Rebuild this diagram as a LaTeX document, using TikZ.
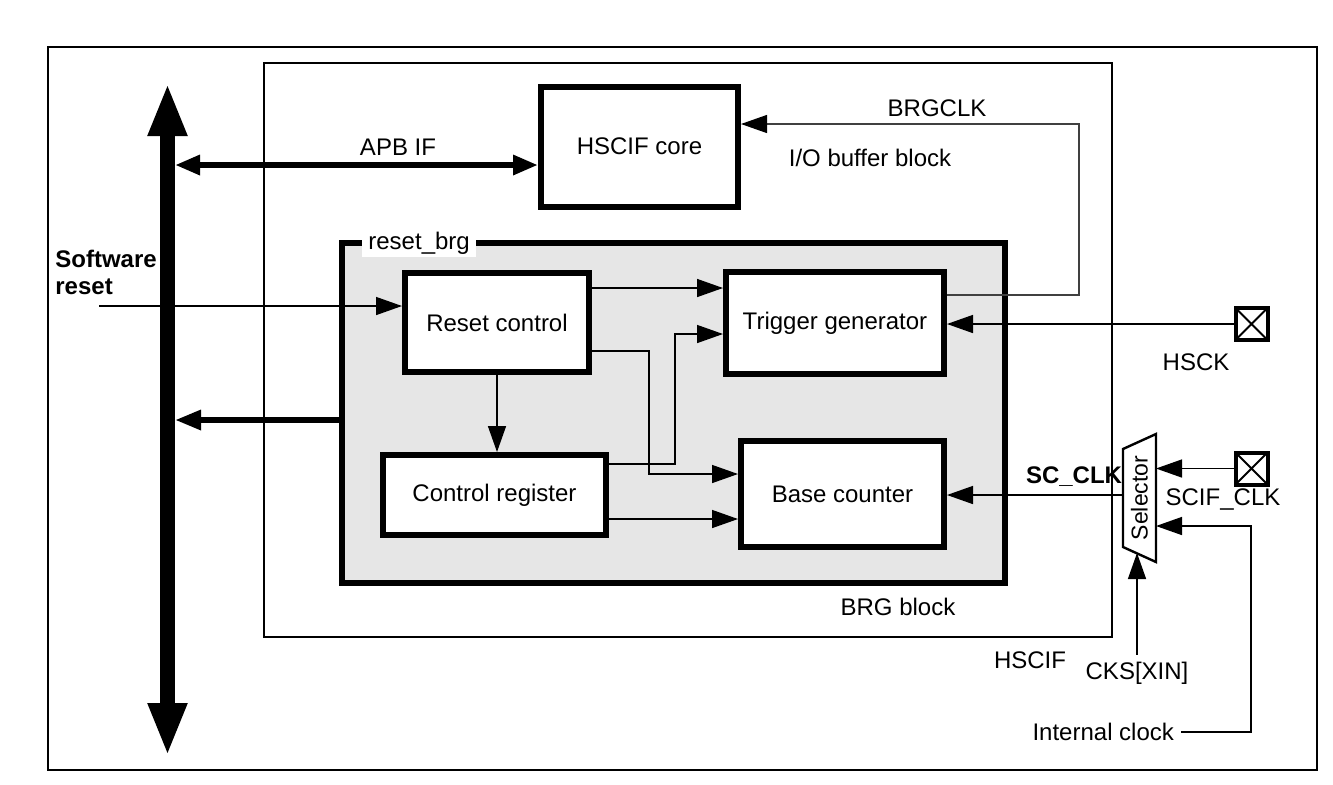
\documentclass[tikz,border=0pt]{standalone}
\usepackage{fontspec}
\setmainfont{Liberation Sans}
\usetikzlibrary{arrows.meta}
\definecolor{brgfill}{HTML}{E6E6E6}
\definecolor{ioline}{HTML}{404040}
\tikzset{
  blk/.style={draw,line width=3pt,fill=white,align=center,inner sep=2pt},
  grp/.style={draw,line width=3pt,fill=brgfill},
  frm/.style={draw,line width=1.3pt},
  sig/.style={-{Triangle[length=13pt,width=9pt]},line width=0.75pt},
  fatarr/.style={-{Triangle[length=13pt,width=9.5pt]},line width=3pt},
  fatboth/.style={{Triangle[length=12.5pt,width=9.5pt]}-{Triangle[length=12.5pt,width=9.5pt]},line width=3pt},
  busarr/.style={{Triangle[length=26.5pt,width=18pt]}-{Triangle[length=26.5pt,width=18pt]},line width=7.5pt},
  pad/.style={draw,line width=2pt,minimum size=16pt,inner sep=0pt,
    path picture={\draw[line width=1pt]
      (path picture bounding box.north west) -- (path picture bounding box.south east)
      (path picture bounding box.north east) -- (path picture bounding box.south west);}},
  selbox/.style={draw,line width=1.2pt,fill=white}
}

\begin{document}
\begin{tikzpicture}[x=0.5pt,y=-0.5pt,font=\fontsize{12}{13.5}\selectfont]
  \useasboundingbox (0,0) rectangle (1333,784);
  \draw[line width=1pt] (48,47) rectangle (1317,770);
  % bus
  \coordinate (bustop) at (167.5,83);
  \coordinate (busbot) at (167.5,756);
  \coordinate (busR) at (175,0);
  \draw[busarr] (busbot) -- (bustop);
  % blocks
  \node[frm,minimum width=424pt,minimum height=287pt] (hscif) at (688,350) {};
  \node[grp,minimum width=331.5pt,minimum height=170pt] (brg) at (673,413) {};
  \node[fill=white,inner xsep=3pt,inner ysep=1.5pt,anchor=west] (brglbl) at (362,243) {reset\_brg};
  \node[blk,minimum width=98.5pt,minimum height=60pt] (core) at (639.5,146.5) {HSCIF core};
  \node[blk,minimum width=92pt,minimum height=49.5pt] (rc) at (497,322.5) {Reset control};
  \node[blk,minimum width=109pt,minimum height=51pt] (tg) at (835,323) {Trigger generator};
  \node[blk,minimum width=111.5pt,minimum height=40pt] (cr) at (494.5,495) {Control register};
  \node[blk,minimum width=101.5pt,minimum height=53pt] (bc) at (842.5,494) {Base counter};
  % inside BRG
  \draw[sig] (rc.east |- 0,288) -- (tg.west |- 0,288);
  \draw[sig] (rc.east |- 0,351) -| (649,474) -- (bc.west |- 0,474);
  \draw[sig] (cr.east |- 0,464) -| (675,334) -- (tg.west |- 0,334);
  \draw[sig] (cr.east |- 0,519) -- (bc.west |- 0,519);
  \draw[sig] (rc.south) -- (rc.south |- cr.north);
  % software reset and bus links
  \node[font=\fontsize{12}{13.5}\selectfont\bfseries,align=left,anchor=north west,inner sep=0pt] (swrst) at (55,250) {Software\\reset};
  \coordinate (swin) at (99,306);
  \draw[sig] (swin) -- (rc.west |- swin);
  \draw[fatarr] (brg.west |- 0,420) -- (busR |- 0,420);
  \draw[fatboth] (busR |- 0,165) -- (core.west |- 0,165);
  \node (apb) at (398,147) {APB IF};
  % BRGCLK back to core
  \draw[line width=0.6pt,ioline,-{Triangle[length=13pt,width=9pt,color=black]}] (tg.east |- 0,295) -| (1079,124) -- (core.east |- 0,124);
  \node (brgclk) at (937,108) {BRGCLK};
  \node (iobuf) at (870,158) {I/O buffer block};
  % HSCK pin
  \node[pad] (hsckpad) at (1251.5,324) {};
  \draw[sig] (hsckpad.west) -- (tg.east |- hsckpad.west);
  \node (hsck) at (1196,362) {HSCK};
  % selector
  \draw[selbox] (1123,449) -- (1156,434) -- (1156,562) -- (1123,547) -- cycle;
  \node[rotate=90,font=\fontsize{11.5}{13}\selectfont] (sel) at (1139.5,498) {Selector};
  \coordinate (selR) at (1156,0);
  \coordinate (selL) at (1123,0);
  \coordinate (selB) at (1137,553);
  \draw[sig] (selL |- 0,495) -- (bc.east |- 0,495);
  \node[font=\fontsize{12}{13.5}\selectfont\bfseries] (scclk) at (1074,477) {SC\_CLK};
  \node[pad] (scifpad) at (1251.5,468.5) {};
  \draw[sig] (scifpad.west) -- (selR |- scifpad.west);
  \node (scif) at (1223,499) {SCIF\_CLK};
  \node[anchor=east] (intclk) at (1181,732) {Internal clock};
  \draw[sig] (intclk.east) -| (1251,526) -- (selR |- 0,526);
  \node (cks) at (1137,673) {CKS[XIN]};
  \draw[sig] (cks.north) -- (selB);
  % block names
  \node (brgname) at (898,607) {BRG block};
  \node (hscifname) at (1030,660) {HSCIF};
\end{tikzpicture}
\end{document}
